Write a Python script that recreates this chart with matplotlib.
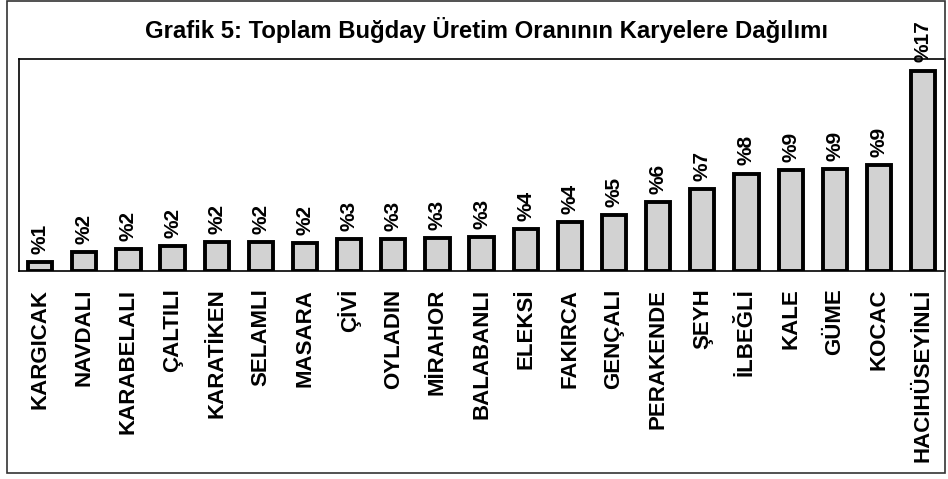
"""
Grafik 5: Toplam Buğday Üretim Oranının Karyelere Dağılımı
"""

import matplotlib.pyplot as plt
from matplotlib.patches import Rectangle

# köyler (karyeler)
koyler = ['KARGICAK', 'NAVDALI', 'KARABELALI', 'ÇALTILI', 'KARATİKEN', 'SELAMLI',
          'MASARA', 'ÇİVİ', 'OYLADIN', 'MİRAHOR', 'BALABANLI', 'ELEKSİ', 'FAKIRCA',
          'GENÇALI', 'PERAKENDE', 'ŞEYH', 'İLBEĞLİ', 'KALE', 'GÜME', 'KOCAC',
          'HACIHÜSEYİNLİ']
# oranlar (%)
oranlar = [0.7, 1.6, 1.8, 2.1, 2.45, 2.4, 2.35, 2.7, 2.7, 2.75, 2.85, 3.55, 4.15,
           4.7, 5.8, 6.95, 8.25, 8.55, 8.6, 9.0, 17.0]
# çubukların üstündeki yazılar
etiketler = [1, 2, 2, 2, 2, 2, 2, 3, 3, 3, 3, 4, 4, 5, 6, 7, 8, 9, 9, 9, 17]

plt.rcParams['font.family'] = ['Liberation Sans', 'DejaVu Sans']

fig = plt.figure(figsize=(9.48, 4.79), dpi=100)
ax = fig.add_axes([0.020, 0.435, 0.977, 0.442])

x = range(len(koyler))
ax.bar(x, oranlar, width=0.55, color='#d2d2d2', edgecolor='black', linewidth=2.8)

for i, (v, e) in enumerate(zip(oranlar, etiketler)):
    ax.text(i, v + 0.7, f'%{e}', rotation=90, ha='center', va='bottom',
            fontsize=15, fontweight='bold', clip_on=False)

ax.set_xlim(-0.48, 20.5)
ax.set_ylim(0, 18)
ax.set_yticks([])
ax.set_xticks(list(x))
ax.set_xticklabels(koyler, rotation=90, fontsize=16, fontweight='bold')
ax.tick_params(axis='x', length=0, pad=13)
for s in ax.spines.values():
    s.set_linewidth(1.2)

fig.text(0.513, 0.937, 'Grafik 5: Toplam Buğday Üretim Oranının Karyelere Dağılımı',
         ha='center', va='center', fontsize=17.2, fontweight='bold')

# dış çerçeve
fig.patches.append(Rectangle((0.007, 0.012), 0.99, 0.986, transform=fig.transFigure,
                             fill=False, edgecolor='#333333', linewidth=1.2))

fig.savefig('out.png', dpi=100)
